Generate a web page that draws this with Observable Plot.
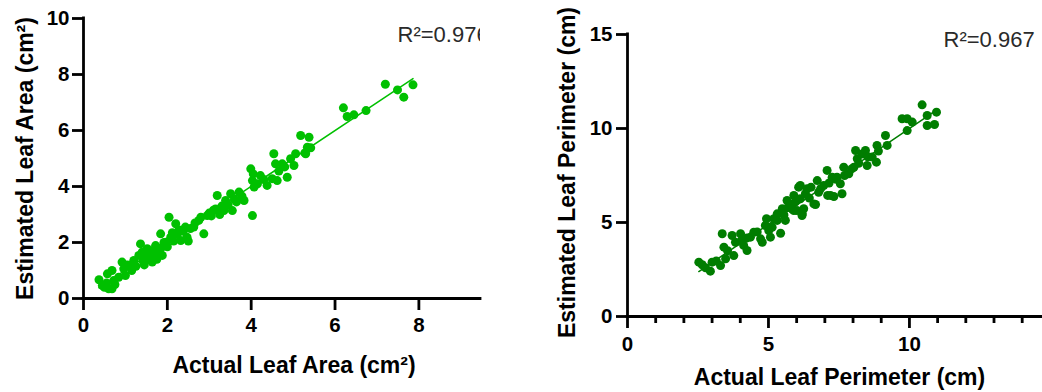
<!DOCTYPE html>
<html><head><meta charset="utf-8">
<script src="https://cdn.jsdelivr.net/npm/d3@7"></script>
<script src="https://cdn.jsdelivr.net/npm/@observablehq/plot@0.6"></script>
<style>
body{margin:0;background:#fff;}
#wrap{position:relative;width:1042px;height:392px;overflow:hidden;background:#fff;}
#wrap svg{position:absolute;top:0;max-width:none;}
</style></head><body><div id="wrap"></div>
<script>
// Left panel: leaf area (cm²)
const areaActual = [0.37,0.45,0.5,0.55,0.57,0.6,0.68,0.68,0.72,0.75,0.84,0.92,0.96,1.0,1.05,1.12,1.15,1.2,1.25,1.32,1.36,1.4,1.42,1.45,1.48,1.5,1.52,1.55,1.58,1.6,1.64,1.66,1.7,1.72,1.75,1.78,1.8,1.85,1.88,1.84,1.92,1.96,2.0,2.04,2.08,2.12,2.15,2.2,2.24,2.28,2.32,2.38,2.43,2.47,2.5,2.55,2.63,2.66,2.75,2.8,2.87,2.95,3.0,3.05,3.1,3.15,3.19,3.25,3.3,3.35,3.39,3.45,3.51,3.55,3.6,3.65,3.71,3.78,3.83,3.99,4.03,4.03,4.05,4.07,4.15,4.22,4.3,4.38,4.5,4.54,4.58,4.62,4.66,4.74,4.8,4.86,4.94,5.02,5.06,5.18,5.28,5.3,5.34,5.38,5.42,6.2,6.29,6.45,6.74,7.2,7.49,7.64,7.86];
const areaEstimated = [0.67,0.46,0.4,0.55,0.88,0.35,0.35,1.0,0.64,0.5,0.76,1.3,1.06,0.82,1.2,1.18,1.0,1.36,1.15,1.54,1.95,1.65,1.35,1.2,1.36,1.55,1.78,1.45,1.7,1.6,1.3,1.5,1.75,1.89,1.4,1.6,1.71,1.8,1.54,2.31,2.0,2.01,1.85,2.9,2.19,2.35,2.05,2.67,2.31,2.45,2.07,2.4,2.55,2.19,2.05,2.5,2.55,2.7,2.79,2.9,2.31,2.96,3.05,2.95,3.15,3.2,3.68,3.0,3.3,3.14,3.5,3.35,3.74,3.14,3.55,3.45,3.8,3.65,3.5,4.63,2.96,4.21,4.45,3.98,4.1,4.39,4.25,4.04,4.28,5.17,4.81,4.21,4.55,4.81,4.7,4.33,4.99,4.75,5.17,5.82,5.2,5.17,5.4,5.76,5.38,6.81,6.5,6.56,6.71,7.65,7.45,7.19,7.63];
// Right panel: leaf perimeter (cm)
const perimActual = [2.53,2.65,2.77,2.94,3.0,3.15,3.3,3.36,3.42,3.48,3.55,3.71,3.77,3.83,4.01,4.05,4.12,4.24,4.24,4.36,4.48,4.6,4.72,4.78,4.89,4.93,5.01,5.07,5.13,5.19,5.31,5.31,5.43,5.49,5.55,5.6,5.66,5.7,5.78,5.85,5.9,5.9,5.96,6.01,6.07,6.13,6.13,6.19,6.2,6.25,6.31,6.37,6.45,6.51,6.61,6.67,6.73,6.78,6.85,6.96,7.08,7.1,7.15,7.2,7.26,7.32,7.4,7.43,7.55,7.61,7.67,7.7,7.85,7.95,8.03,8.09,8.15,8.2,8.32,8.44,8.5,8.52,8.68,8.83,8.85,8.9,9.15,9.21,9.74,9.92,9.92,10.1,10.45,10.63,10.63,10.89,10.96];
const perimEstimated = [2.89,2.75,2.59,2.41,2.89,2.95,2.71,4.4,3.69,3.07,3.5,4.31,3.24,3.95,4.4,4.05,3.78,3.51,4.18,4.22,4.48,4.5,4.13,3.95,4.84,5.2,4.57,4.22,4.75,5.2,5.46,5.11,4.43,5.73,5.4,5.11,6.17,5.8,5.99,5.7,5.64,6.44,6.1,5.64,6.88,6.26,6.97,5.37,5.46,5.73,6.53,6.79,6.3,6.88,5.99,5.96,7.23,6.61,6.8,6.97,7.77,6.44,7.1,6.44,7.41,6.38,7.3,7.41,7.06,6.53,7.94,7.5,7.59,7.85,7.94,8.83,8.39,8.15,8.65,8.83,8.03,8.5,8.48,8.21,9.1,8.8,9.63,9.1,10.52,10.52,9.89,10.34,11.26,10.69,10.16,10.21,10.87];

const areaTicksX = [0, 2, 4, 6, 8];
const areaTicksY = [0, 2, 4, 6, 8, 10];
const perimTicksX = [0, 5, 10];
const perimTicksMinor = [1, 2, 3, 4, 6, 7, 8, 9, 11, 12, 13, 14];
const perimTicksY = [0, 5, 10, 15];

const areaR2 = "R²=0.976";
const perimR2 = "R²=0.967";
const areaXTitle = "Actual Leaf Area (cm²)";
const areaYTitle = "Estimated Leaf Area (cm²)";
const perimXTitle = "Actual Leaf Perimeter (cm)";
const perimYTitle = "Estimated Leaf Perimeter (cm)";

const areaColor = "#00c000";
const perimColor = "#007d00";
const font = "'Liberation Sans', Arial, Helvetica, sans-serif";
const AX = 2.8;
const R = 4.5;
const TF = 20.5;

const areaData = areaActual.map((x, i) => ({x, y: areaEstimated[i]}));
const perimData = perimActual.map((x, i) => ({x, y: perimEstimated[i]}));

const left = Plot.plot({
  width: 500, height: 392,
  marginLeft: 83, marginRight: 20, marginTop: 18, marginBottom: 94,
  x: {domain: [0, 9.47], axis: null},
  y: {domain: [0, 10], axis: null},
  style: {fontFamily: font, fontWeight: "bold", background: "transparent", overflow: "visible", color: "#000"},
  marks: [
    Plot.linearRegressionY(areaData, {x: "x", y: "y", stroke: areaColor, strokeWidth: 1.5, ci: 0}),
    Plot.dot(areaData, {x: "x", y: "y", r: R, fill: areaColor}),
    Plot.ruleX([0], {strokeWidth: AX, strokeLinecap: "square"}),
    Plot.ruleY([0], {strokeWidth: AX, strokeLinecap: "square"}),
    Plot.axisX({ticks: areaTicksX, tickSize: 12, tickPadding: 7, strokeWidth: AX, fontSize: TF, label: null}),
    Plot.axisY({ticks: areaTicksY, tickSize: 11, tickPadding: 3, strokeWidth: AX, fontSize: TF, label: null}),
    Plot.text([areaR2], {text: d => d, frameAnchor: "top-left", dx: 314, dy: 8, textAnchor: "start", lineAnchor: "top", fontSize: 22, fontWeight: "normal", fill: "#2a2a2a", clip: true}),
    Plot.text([areaXTitle], {text: d => d, frameAnchor: "bottom", dx: 12, dy: 67, textAnchor: "middle", lineAnchor: "middle", fontSize: 23}),
    Plot.text([areaYTitle], {text: d => d, frameAnchor: "left", rotate: -90, dx: -58, dy: 0, textAnchor: "middle", lineAnchor: "middle", fontSize: 23})
  ]
});
left.style.left = "0px";

const right = Plot.plot({
  width: 522, height: 392,
  marginLeft: 107, marginRight: 0, marginTop: 34, marginBottom: 76,
  x: {domain: [0, 14.72], axis: null},
  y: {domain: [0, 15], axis: null},
  style: {fontFamily: font, fontWeight: "bold", background: "transparent", overflow: "visible", color: "#000"},
  marks: [
    Plot.linearRegressionY(perimData, {x: "x", y: "y", stroke: perimColor, strokeWidth: 1.5, ci: 0}),
    Plot.dot(perimData, {x: "x", y: "y", r: R, fill: perimColor}),
    Plot.ruleX([0], {strokeWidth: AX, strokeLinecap: "square"}),
    Plot.ruleY([0], {strokeWidth: AX, strokeLinecap: "square"}),
    Plot.axisX({ticks: perimTicksMinor, tickSize: 7, strokeWidth: AX, tickFormat: () => "", label: null}),
    Plot.axisX({ticks: perimTicksX, tickSize: 12, tickPadding: 8, strokeWidth: AX, fontSize: TF, label: null}),
    Plot.axisY({ticks: perimTicksY, tickSize: 11, tickPadding: 4, strokeWidth: AX, fontSize: TF, label: null}),
    Plot.text([perimR2], {text: d => d, frameAnchor: "top-left", dx: 316, dy: -3, textAnchor: "start", lineAnchor: "top", fontSize: 22, fontWeight: "normal", fill: "#2a2a2a"}),
    Plot.text([perimXTitle], {text: d => d, frameAnchor: "bottom", dx: 4.5, dy: 61.5, textAnchor: "middle", lineAnchor: "middle", fontSize: 23}),
    Plot.text([perimYTitle], {text: d => d, frameAnchor: "left", rotate: -90, dx: -60, dy: -3, textAnchor: "middle", lineAnchor: "middle", fontSize: 23})
  ]
});
right.style.left = "520px";

const wrap = document.getElementById("wrap");
wrap.append(left, right);
</script>
</body></html>
